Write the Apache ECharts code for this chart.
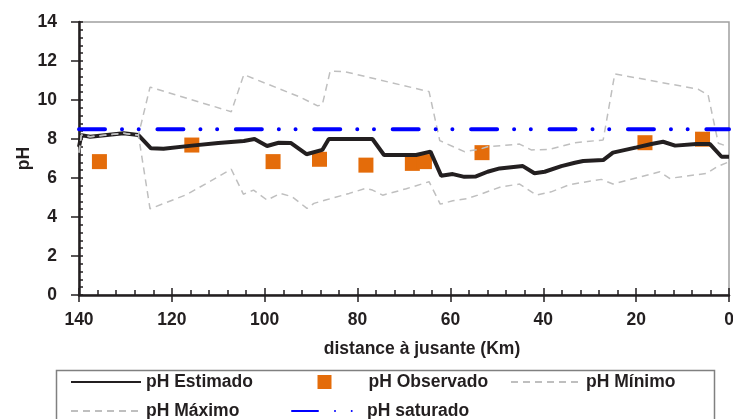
<!DOCTYPE html>
<html>
<head>
<meta charset="utf-8">
<script src="https://cdn.jsdelivr.net/npm/echarts@6/dist/echarts.min.js"></script>
<style>
    html, body {margin: 0; padding: 0; background: #fff;}
    #showChart {width: 733px; height: 419px;}
</style>
</head>
<body>
<div id="showChart"></div>
<script>
// distance à jusante (km) / pH
var estKm = [140, 139.5, 137.6, 130.4, 127.2, 124.5, 121.8, 115.7, 110, 104.5, 102.2, 99.5, 97, 94.4, 91, 87.6, 86.2, 76.8, 74.3, 67.4, 67, 64.3, 62, 59.5, 57, 54.5, 52, 49.4, 44.4, 41.9, 39.7, 36.1, 33.2, 31.4, 27.1, 25, 19.9, 16.7, 14.2, 11.6, 7, 4.1, 1.6, 0];
var estPH = [7.6, 8.2, 8.12, 8.29, 8.2, 7.52, 7.5, 7.66, 7.8, 7.9, 8.0, 7.64, 7.81, 7.8, 7.22, 7.44, 8.0, 8.0, 7.18, 7.18, 7.28, 7.35, 6.12, 6.2, 6.06, 6.08, 6.32, 6.49, 6.61, 6.24, 6.32, 6.61, 6.78, 6.87, 6.92, 7.3, 7.57, 7.74, 7.86, 7.66, 7.74, 7.74, 7.09, 7.09];

var obsKm = [135.6, 115.7, 98.2, 88.2, 78.2, 68.2, 65.6, 53.2, 18.1, 5.7];
var obsPH = [6.84, 7.69, 6.84, 6.96, 6.66, 6.75, 6.84, 7.3, 7.81, 7.99];

var minKm = [140, 139.5, 137.6, 130.4, 127.2, 124.7, 116.8, 107.2, 104.6, 102.4, 99.5, 96.6, 94.1, 90.9, 89.4, 86.9, 81.8, 78.2, 76.8, 74.6, 69.5, 64.6, 62.2, 59.5, 56.3, 54.1, 49.1, 45.1, 43.7, 41.5, 38.3, 34.3, 27.5, 25, 14.9, 12.8, 4.8, 2.6, 0];
var minPH = [7.3, 8.2, 8.12, 8.29, 8.2, 4.42, 5.15, 6.45, 5.17, 5.38, 4.87, 5.21, 5.04, 4.44, 4.7, 4.87, 5.21, 5.47, 5.38, 5.12, 5.45, 5.81, 4.66, 4.83, 4.95, 5.12, 5.55, 5.69, 5.47, 5.12, 5.29, 5.66, 5.93, 5.69, 6.32, 5.98, 6.24, 6.58, 6.83];

var maxKm = [140, 139.5, 137.6, 130.4, 127.2, 124.7, 107.2, 104.5, 92.6, 88.6, 87.6, 85.9, 82.9, 64.6, 62.3, 57, 53.8, 52, 45.1, 42.6, 38.6, 33.2, 27.1, 24.6, 6.6, 4.5, 2.3, 0];
var maxPH = [7.3, 8.2, 8.12, 8.29, 8.2, 10.66, 9.4, 11.3, 10.17, 9.7, 9.75, 11.48, 11.46, 10.43, 7.92, 7.35, 7.47, 7.6, 7.74, 7.44, 7.47, 7.81, 7.95, 11.34, 10.55, 10.26, 7.78, 7.6];

var satKm = [140, 0];
var satPH = [8.5, 8.5];

var FONT = "'Liberation Sans', Arial, sans-serif";
var FS = 17.5;
var INK = '#231F20';

function pairs(xs, ys) {
    var out = [];
    for (var i = 0; i < xs.length; i++) {
        out.push([xs[i], ys[i]]);
    }
    return out;
}

var txt = {fontFamily: FONT, fontSize: FS, fontWeight: 'bold', color: INK};
var tick = {color: INK, width: 1.5};
var G = {left: 79, right: 4, top: 22, bottom: 124};
var plotW = 733 - G.left - G.right;
var plotH = 419 - G.top - G.bottom;

// one legend per entry so the columns line up like the original
function legendItem(name, left, top, extra) {
    var l = {
        left: left, top: top, padding: 0,
        itemWidth: 70, itemHeight: 14,
        textStyle: {fontFamily: FONT, fontSize: FS, fontWeight: 'bold', color: INK, lineHeight: 21},
        itemStyle: {opacity: 0},
        data: [name]
    };
    for (var k in extra) l[k] = extra[k];
    return l;
}

var option1 = {
    animation: false,
    grid: {
        left: G.left, right: G.right, top: G.top, bottom: G.bottom, outerBoundsMode: 'none',
        show: true, borderColor: '#A0A0A0', borderWidth: 1.5
    },
    xAxis: [
        {
            type: 'value', position: 'bottom', min: 0, max: 140, interval: 20, inverse: true,
            name: 'distance à jusante (Km)', nameLocation: 'middle', nameGap: 45, nameMoveOverlap: false,
            nameTextStyle: Object.assign({padding: [0, 0, 0, 36]}, txt),
            axisLine: {onZero: false, lineStyle: {color: INK, width: 2.5}},
            axisTick: {inside: true, length: 7, lineStyle: tick},
            minorTick: {show: true, splitNumber: 5, length: 5, lineStyle: tick},
            axisLabel: Object.assign({margin: 16}, txt),
            splitLine: {show: false}
        },
        {
            // outer half of the major ticks, pulled down onto the bottom axis
            type: 'value', position: 'top', offset: -plotH, min: 0, max: 140, interval: 20, inverse: true,
            axisLine: {show: false, onZero: false},
            axisTick: {inside: true, length: 7, lineStyle: tick},
            axisLabel: {show: false},
            splitLine: {show: false}
        }
    ],
    yAxis: [
        {
            type: 'value', position: 'left', min: 0, max: 14, interval: 2,
            name: 'pH', nameLocation: 'middle', nameGap: 46, nameMoveOverlap: false,
            nameTextStyle: txt,
            axisLine: {show: true, onZero: false, lineStyle: {color: INK, width: 2.5}},
            axisTick: {show: true, inside: true, length: 4, lineStyle: tick},
            minorTick: {show: true, splitNumber: 5, length: 4, lineStyle: tick},
            axisLabel: Object.assign({margin: 22}, txt),
            splitLine: {show: false}
        },
        {
            // outer half of the major ticks, pulled left onto the left axis
            type: 'value', position: 'right', offset: -plotW, min: 0, max: 14, interval: 2,
            axisLine: {show: false, onZero: false},
            axisTick: {show: true, inside: true, length: 8, lineStyle: tick},
            axisLabel: {show: false},
            splitLine: {show: false}
        }
    ],
    legend: [
        legendItem('pH Estimado', 70, 371.5),
        legendItem('pH Observado', 317.5, 371.5, {
            itemWidth: 14, itemStyle: {opacity: 1},
            textStyle: {fontFamily: FONT, fontSize: FS, fontWeight: 'bold', color: INK, lineHeight: 21, padding: [0, 0, 0, 32]}
        }),
        legendItem('pH Mínimo', 510, 371.5),
        legendItem('pH Máximo', 70, 400.5),
        legendItem('pH saturado', 291, 400.5)
    ],
    graphic: [
        {
            type: 'rect', left: 54, top: 368, silent: true,
            shape: {width: 658, height: 80},
            style: {fill: 'none', stroke: '#808080', lineWidth: 1.5}
        }
    ],
    series: [
        {
            name: 'pH Estimado', type: 'line', symbol: 'none',
            data: pairs(estKm, estPH),
            itemStyle: {color: INK},
            lineStyle: {color: INK, width: 4}
        },
        {
            name: 'pH Observado', type: 'scatter', symbol: 'rect', symbolSize: 15,
            data: pairs(obsKm, obsPH),
            itemStyle: {color: '#E46C0A', opacity: 1}
        },
        {
            name: 'pH Mínimo', type: 'line', symbol: 'none',
            data: pairs(minKm, minPH),
            itemStyle: {color: '#BFBFBF'},
            lineStyle: {color: '#BFBFBF', width: 1.5, type: [7, 5]}
        },
        {
            name: 'pH Máximo', type: 'line', symbol: 'none',
            data: pairs(maxKm, maxPH),
            itemStyle: {color: '#BFBFBF'},
            lineStyle: {color: '#BFBFBF', width: 1.5, type: [7, 5]}
        },
        {
            name: 'pH saturado', type: 'line', symbol: 'none',
            data: pairs(satKm, satPH),
            itemStyle: {color: '#0000FF'},
            lineStyle: {color: '#0000FF', width: 4, type: [26, 17, 0.01, 16.7, 0.01, 18.7], cap: 'round'}
        }
    ]
};

var chartOutChar = echarts.init(document.getElementById('showChart'));
chartOutChar.setOption(option1);
</script>
</body>
</html>
